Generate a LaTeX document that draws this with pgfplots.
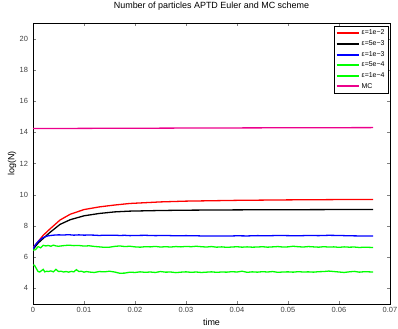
\documentclass[border=0pt]{standalone}
\usepackage{pgfplots}
\pgfplotsset{compat=1.18}
\usepackage{fontspec}
\setmainfont{Liberation Sans}
\begin{document}
\begin{tikzpicture}[x=1bp,y=1bp]
\begin{axis}[
  width=357bp, height=281bp, scale only axis,
  xmin=0, xmax=0.07, ymin=3, ymax=21,
  scaled x ticks=false,
  xtick={0,0.01,0.02,0.03,0.04,0.05,0.06,0.07},
  xticklabels={0,0.01,0.02,0.03,0.04,0.05,0.06,0.07},
  ytick={4,6,...,20},
  tick align=inside, tick pos=both,
  major tick length=3bp,
  ticklabel style={font=\fontsize{7.5}{8}\selectfont, text=black!75},
  yticklabel style={xshift=-1.5bp},
  /pgf/number format/assume math mode=true,
  xlabel={time}, ylabel={log(N)},
  label style={font=\fontsize{9}{10}\selectfont},
  xlabel style={at={(axis description cs:0.5,-0.064)}, anchor=center},
  ylabel style={at={(axis description cs:-0.059,0.5)}, anchor=center},
  title={Number of particles APTD Euler and MC scheme},
  title style={font=\fontsize{9}{10}\selectfont, at={(axis description cs:0.5,1.039)}, anchor=center},
  axis line style={black, line width=0.8pt},
  legend style={at={(0.995,0.988)}, anchor=north east, font=\fontsize{7}{8}\selectfont, inner sep=1.5pt, row sep=0.3pt},
  legend cell align=left,
  legend image code/.code={\draw[#1, line width=2pt] (0bp,0bp) -- (22bp,0bp);},
  every axis plot/.append style={line width=1.3pt},
]
\addplot[red] coordinates {
(0,6.6) (0.0005,6.8) (0.001,7.0) (0.002,7.4) (0.0033,7.8) (0.0053,8.38) (0.0073,8.75) (0.01,9.05) (0.013,9.22) (0.016,9.34) (0.019,9.44) (0.025,9.54) (0.03,9.59) (0.04,9.64) (0.05,9.67) (0.06,9.69) (0.0667,9.7)};
\addlegendentry{ε=1e−2}
\addplot[black] coordinates {
(0,6.5) (0.0005,6.7) (0.001,6.9) (0.002,7.2) (0.0033,7.58) (0.0053,8.1) (0.0073,8.4) (0.01,8.65) (0.013,8.8) (0.016,8.9) (0.019,8.95) (0.025,8.99) (0.03,9.01) (0.04,9.03) (0.05,9.04) (0.06,9.05) (0.0667,9.05)};
\addlegendentry{ε=5e−3}
\addplot[blue] coordinates {
(0,6.55) (0.0005,6.8) (0.001,7.0) (0.0015,7.15) (0.002,7.26) (0.003,7.37) (0.004,7.41) (0.005,7.43) (0.006,7.42) (0.007,7.44) (0.008,7.41) (0.009,7.43) (0.010,7.41) (0.011,7.42) (0.012,7.41) (0.013,7.39) (0.014,7.41) (0.015,7.4) (0.016,7.41) (0.017,7.39) (0.018,7.4) (0.019,7.38) (0.020,7.39) (0.022,7.4) (0.024,7.38) (0.026,7.39) (0.028,7.37) (0.030,7.38) (0.032,7.37) (0.034,7.35) (0.036,7.36) (0.038,7.35) (0.040,7.37) (0.042,7.36) (0.044,7.38) (0.046,7.37) (0.048,7.39) (0.050,7.38) (0.052,7.37) (0.054,7.39) (0.056,7.38) (0.058,7.40) (0.060,7.39) (0.062,7.37) (0.064,7.36) (0.0667,7.36)};
\addlegendentry{ε=1e−3}
\addplot[green] coordinates {
(0,6.45) (0.0005,6.48) (0.001,6.68) (0.0015,6.6) (0.002,6.76) (0.0025,6.72) (0.003,6.75) (0.0035,6.7) (0.004,6.77) (0.0045,6.72) (0.005,6.7) (0.006,6.74) (0.007,6.77) (0.008,6.74) (0.009,6.75) (0.010,6.71) (0.011,6.73) (0.012,6.69) (0.013,6.66) (0.014,6.63) (0.015,6.64) (0.016,6.69) (0.017,6.72) (0.018,6.68) (0.019,6.7) (0.020,6.66) (0.021,6.64) (0.022,6.67) (0.023,6.66) (0.024,6.69) (0.025,6.65) (0.026,6.67) (0.027,6.65) (0.028,6.68) (0.029,6.66) (0.030,6.69) (0.031,6.67) (0.032,6.70) (0.033,6.67) (0.034,6.65) (0.035,6.68) (0.036,6.64) (0.037,6.66) (0.038,6.63) (0.039,6.65) (0.040,6.67) (0.041,6.64) (0.042,6.66) (0.043,6.64) (0.044,6.65) (0.045,6.67) (0.046,6.64) (0.047,6.66) (0.048,6.68) (0.049,6.65) (0.050,6.66) (0.051,6.70) (0.052,6.67) (0.053,6.65) (0.054,6.68) (0.055,6.66) (0.056,6.64) (0.057,6.67) (0.058,6.65) (0.059,6.66) (0.060,6.63) (0.061,6.66) (0.062,6.64) (0.063,6.65) (0.064,6.62) (0.065,6.64) (0.0667,6.62)};
\addlegendentry{ε=5e−4}
\addplot[green] coordinates {
(0,5.5) (0.0003,5.48) (0.0006,5.3) (0.001,5.08) (0.0013,5.05) (0.0016,5.12) (0.002,5.22) (0.0023,5.06) (0.0027,5.1) (0.003,5.08) (0.0035,5.12) (0.004,5.06) (0.0045,5.22) (0.005,5.08) (0.0055,5.1) (0.006,5.05) (0.0065,5.08) (0.007,5.04) (0.0075,5.09) (0.008,5.06) (0.0085,5.2) (0.009,5.08) (0.0095,5.1) (0.010,5.04) (0.0105,5.08) (0.011,5.05) (0.012,5.02) (0.013,5.08) (0.014,5.06) (0.015,5.1) (0.016,5.05) (0.017,4.97) (0.018,4.98) (0.019,5.04) (0.020,5.02) (0.021,5.06) (0.022,5.03) (0.023,5.05) (0.024,5.02) (0.025,5.08) (0.026,5.04) (0.027,5.05) (0.028,5.01) (0.029,5.04) (0.030,5.06) (0.031,5.03) (0.032,5.05) (0.033,5.02) (0.034,5.04) (0.035,5.06) (0.036,5.03) (0.037,5.05) (0.038,5.04) (0.039,5.07) (0.040,5.05) (0.041,5.1) (0.042,5.03) (0.043,5.06) (0.044,5.04) (0.045,5.07) (0.046,5.05) (0.047,5.08) (0.048,5.03) (0.049,5.05) (0.050,5.06) (0.051,5.04) (0.052,5.07) (0.053,5.05) (0.054,5.06) (0.055,5.04) (0.056,5.07) (0.057,5.08) (0.058,5.11) (0.059,5.08) (0.060,5.05) (0.061,5.02) (0.062,5.06) (0.063,5.09) (0.064,5.04) (0.065,5.07) (0.0667,5.05)};
\addlegendentry{ε=1e−4}
\addplot[magenta] coordinates {(0,14.24) (0.02,14.26) (0.04,14.28) (0.0667,14.3)};
\addlegendentry{MC}
\end{axis}
\pgfresetboundingbox
\path[use as bounding box] ([xshift=-33bp,yshift=-24bp]current axis.south west) rectangle ([xshift=8bp,yshift=23bp]current axis.north east);
\end{tikzpicture}
\end{document}
